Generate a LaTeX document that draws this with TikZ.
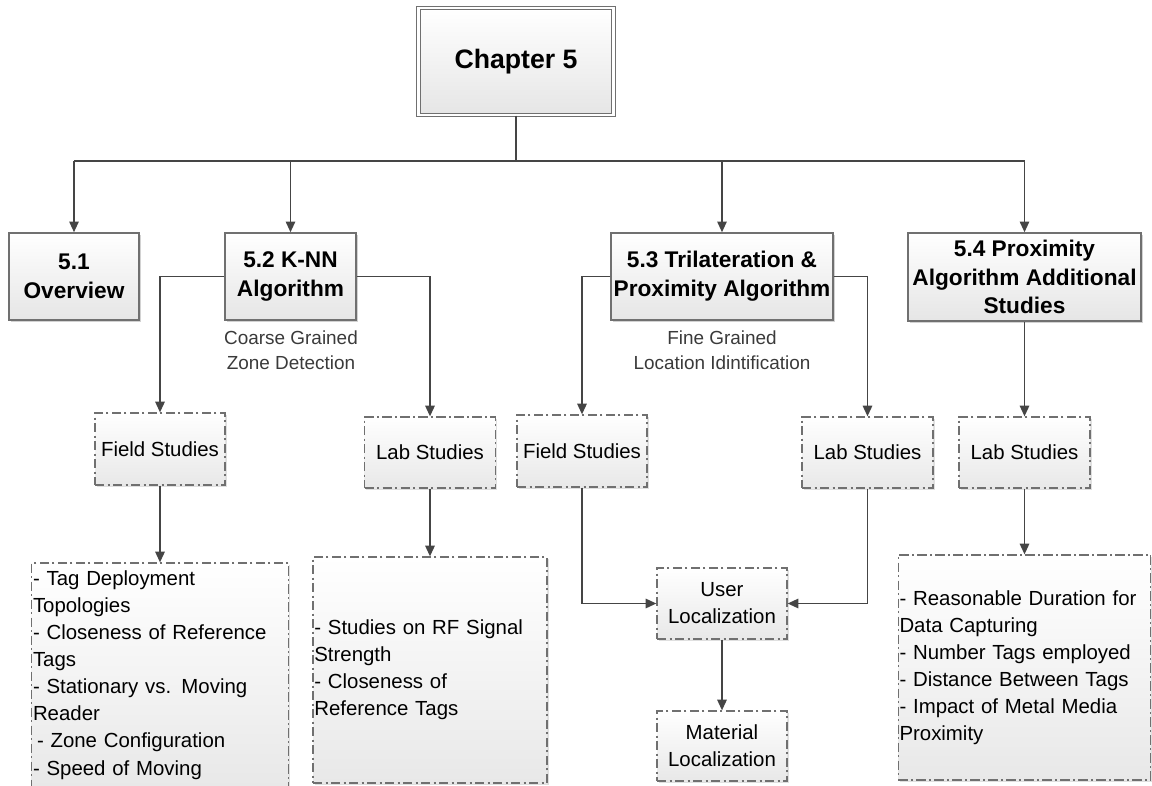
\documentclass[tikz,border=0pt]{standalone}
\usepackage{fontspec}
\setmainfont{Liberation Sans}
\usetikzlibrary{arrows.meta,shadows}
\definecolor{linec}{HTML}{454545}
\definecolor{boxline}{HTML}{707070}
\definecolor{capc}{HTML}{3A3A3A}
\begin{document}
\begin{tikzpicture}[x=0.75pt,y=-0.75pt,
  conn/.style={draw=linec, line width=1.3pt, -{Triangle[length=8pt,width=7pt]}},
  plain/.style={draw=linec, line width=1.3pt},
  topbox/.style={draw=boxline, line width=1.1pt, top color=white, bottom color=black!10,
    drop shadow={shadow xshift=1.3pt,shadow yshift=-1.3pt,fill=black!35},
    align=center, font=\fontsize{17}{21.5}\selectfont\bfseries, inner sep=1pt},
  dbox/.style={draw=boxline, line width=0.9pt, dash pattern=on 7pt off 2.5pt on 1.5pt off 2.5pt,
    top color=white, bottom color=black!9,
    drop shadow={shadow xshift=1.2pt,shadow yshift=-1.2pt,fill=black!25},
    font=\fontsize{15.3}{20.3}\selectfont, align=center, inner sep=1pt},
  lbox/.style={dbox, align=left, inner xsep=1pt},
  captxt/.style={text=capc, font=\fontsize{14.2}{18.75}\selectfont, align=center}]
\clip (0,0) rectangle (1152,785);
% top
\node[topbox, minimum width=146.25pt, minimum height=80.25pt,
      font=\fontsize{20}{24}\selectfont\bfseries, double=white, double distance=2pt, line width=0.8pt]
      (ch) at (516,61.5) {Chapter 5};
\coordinate (bus) at (516,161);
% level 1
\node[topbox, minimum width=97.5pt, minimum height=65.25pt] (s51) at (74,276.5) {5.1\\Overview};
\node[topbox, minimum width=98.25pt, minimum height=65.25pt] (s52) at (290.5,276.5) {5.2 K-NN\\Algorithm};
\node[topbox, minimum width=166.5pt, minimum height=65.25pt] (s53) at (722,276.5) {5.3 Trilateration \&\\Proximity Algorithm};
\node[topbox, minimum width=174.75pt, minimum height=66pt] (s54) at (1024.5,277) {5.4 Proximity\\Algorithm Additional\\Studies};
% captions
\node[captxt] (c1) at (291,350.5) {Coarse Grained\\Zone Detection};
\node[captxt] (c2) at (722,350.5) {Fine Grained\\Location Idintification};
% level 2
\node[dbox, minimum width=97.5pt, minimum height=54pt] (fs1) at (160,449) {Field Studies};
\node[dbox, minimum width=98.25pt, minimum height=53.25pt] (ls1) at (430,452.5) {Lab Studies};
\node[dbox, minimum width=97.5pt, minimum height=54pt] (fs2) at (582,451) {Field Studies};
\node[dbox, minimum width=98.25pt, minimum height=53.25pt] (ls2) at (867.5,452.5) {Lab Studies};
\node[dbox, minimum width=98.25pt, minimum height=53.25pt] (ls3) at (1024.5,452.5) {Lab Studies};
% level 3
\node[lbox, text width=190.5pt, minimum height=168pt] (l1) at (160,675)
  {- Tag Deployment\\Topologies\\- Closeness of Reference\\Tags\\- Stationary vs. Moving\\Reader\\\hspace*{3pt}- Zone Configuration\\- Speed of Moving};
\node[lbox, text width=173.5pt, minimum height=169.5pt] (l2) at (430,670)
  {- Studies on RF Signal\\Strength\\- Closeness of\\Reference Tags};
\node[lbox, text width=187.5pt, minimum height=168.75pt] (l3) at (1024.5,667.5)
  {- Reasonable Duration for\\Data Capturing\\- Number Tags employed\\- Distance Between Tags\\- Impact of Metal Media\\Proximity};
\node[dbox, minimum width=97.5pt, minimum height=53.25pt] (ul) at (722,603.5) {User\\Localization};
\node[dbox, minimum width=97.5pt, minimum height=52.5pt] (ml) at (722,746) {Material\\Localization};
% connectors
\draw[plain] (ch.south) -- (bus);
\draw[plain] (s51.north |- bus) -- (s54.north |- bus);
\draw[conn] (s51.north |- bus) -- (s51.north);
\draw[conn] (s52.north |- bus) -- (s52.north);
\draw[conn] (s53.north |- bus) -- (s53.north);
\draw[conn] (s54.north |- bus) -- (s54.north);
\draw[conn] (s52.west) -| (fs1.north);
\draw[conn] (s52.east) -| (ls1.north);
\draw[conn] (s53.west) -| (fs2.north);
\draw[conn] (s53.east) -| (ls2.north);
\draw[conn] (s54.south) -- (ls3.north);
\draw[conn] (fs1.south) -- (l1.north);
\draw[conn] (ls1.south) -- (l2.north);
\draw[conn] (ls3.south) -- (l3.north);
\draw[conn] (fs2.south) |- (ul.west);
\draw[conn] (ls2.south) |- (ul.east);
\draw[conn] (ul.south) -- (ml.north);
\end{tikzpicture}
\end{document}
